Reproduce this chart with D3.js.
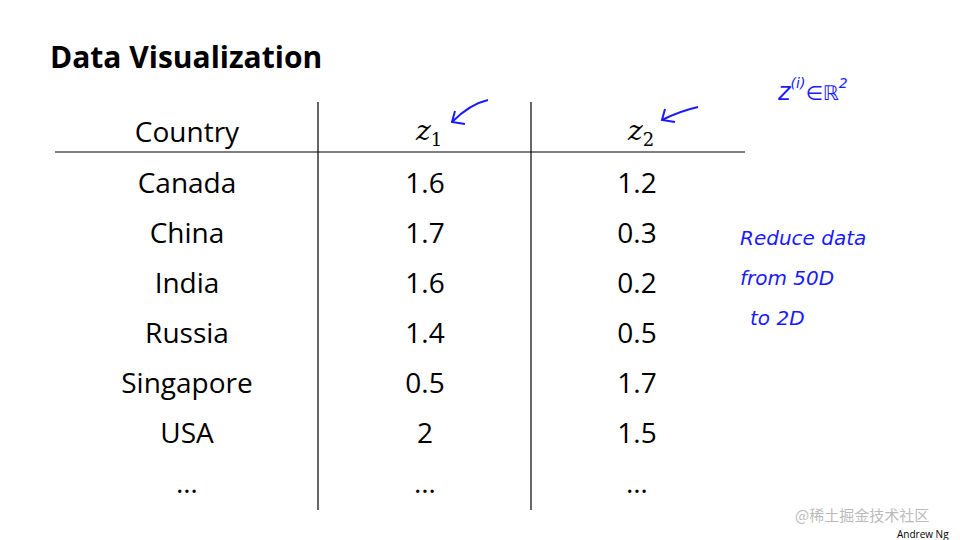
<!DOCTYPE html>
<html><head><meta charset="utf-8">
<script src="https://cdn.jsdelivr.net/npm/d3@7"></script>
<style>body{margin:0;background:#fff}</style>
</head><body>
<div id="slide"></div>
<script>
// Table data
var countries = ["Canada", "China", "India", "Russia", "Singapore", "USA", "…"];
var z1 = ["1.6", "1.7", "1.6", "1.4", "0.5", "2", "…"];
var z2 = ["1.2", "0.3", "0.2", "0.5", "1.7", "1.5", "…"];
var columns = ["country", "z1", "z2"];

var svg = d3.select("#slide").append("svg")
    .attr("width", 960).attr("height", 540);

var font = "'Open Sans', Lato, sans-serif";

// Column and row scales
var xScale = d3.scaleOrdinal().domain(columns).range([187, 425, 637]);
var yScale = d3.scalePoint().domain(d3.range(countries.length)).range([193, 493]);

// Title
svg.append("text").attr("x", 50).attr("y", 68)
    .attr("font-family", font).attr("font-weight", "bold").attr("font-size", 30)
    .text("Data Visualization");

// Grid lines
svg.append("line").attr("x1", 55).attr("x2", 745).attr("y1", 152).attr("y2", 152)
    .attr("stroke", "#000").attr("stroke-width", 1.2);
[318, 531].forEach(function(x){
    svg.append("line").attr("x1", x).attr("x2", x).attr("y1", 102).attr("y2", 510)
        .attr("stroke", "#000").attr("stroke-width", 1.2);
});

// Header
svg.append("text").attr("x", xScale("country")).attr("y", 142)
    .attr("text-anchor", "middle").attr("font-family", font).attr("font-size", 28)
    .text("Country");
[["z1", "1"], ["z2", "2"]].forEach(function(h){
    var t = svg.append("text").attr("x", xScale(h[0]) + 4).attr("y", 140)
        .attr("text-anchor", "middle").attr("font-family", "'DejaVu Serif', serif")
        .attr("font-size", 28);
    t.append("tspan").attr("font-style", "italic").text("z");
    t.append("tspan").attr("font-size", 18).attr("dy", 6).text(h[1]);
});

// Body rows
var rows = countries.map(function(c, i){ return {i: i, country: c, z1: z1[i], z2: z2[i]}; });
columns.forEach(function(col){
    svg.selectAll(null).data(rows).enter().append("text")
        .attr("x", xScale(col))
        .attr("y", d => yScale(d.i))
        .attr("text-anchor", "middle")
        .attr("font-family", font).attr("font-size", 28)
        .text(d => d[col]);
});

// Handwritten annotations
var blue = "#1a1aff";
function arrow(x0, y0, x1, y1){
    svg.append("path").attr("d", `M${x0},${y0} Q${(x0+x1)/2},${y0+4} ${x1},${y1}`)
        .attr("stroke", blue).attr("stroke-width", 2).attr("fill", "none");
    svg.append("path").attr("d", `M${x1+3},${y1-11} L${x1},${y1} L${x1+13},${y1+2}`)
        .attr("stroke", blue).attr("stroke-width", 2).attr("fill", "none");
}
arrow(488, 100, 452, 122);
arrow(698, 107, 662, 120);

var hand = "'DejaVu Sans', sans-serif";
var zt = svg.append("text").attr("x", 778).attr("y", 100).attr("fill", blue)
    .attr("font-family", hand).attr("font-style", "italic").attr("font-size", 24);
zt.append("tspan").text("z");
zt.append("tspan").attr("font-size", 14).attr("dy", -12).text("(i)");
zt.append("tspan").attr("dy", 12).attr("font-size", 20).text("∈ℝ");
zt.append("tspan").attr("font-size", 14).attr("dy", -12).text("2");

["Reduce data", "from  50D", "to   2D"].forEach(function(s, i){
    svg.append("text").attr("x", i == 2 ? 750 : 740).attr("y", 245 + i * 40)
        .attr("fill", blue).attr("font-family", hand).attr("font-style", "italic")
        .attr("font-size", 20).text(s);
});

// Footer
svg.append("text").attr("x", 795).attr("y", 521).attr("fill", "#bbb")
    .attr("font-family", "'Noto Sans CJK SC', sans-serif").attr("font-size", 15)
    .text("@稀土掘金技术社区");
svg.append("text").attr("x", 897).attr("y", 538).attr("fill", "#000")
    .attr("font-family", font).attr("font-size", 10).text("Andrew Ng");
</script>
</body></html>
